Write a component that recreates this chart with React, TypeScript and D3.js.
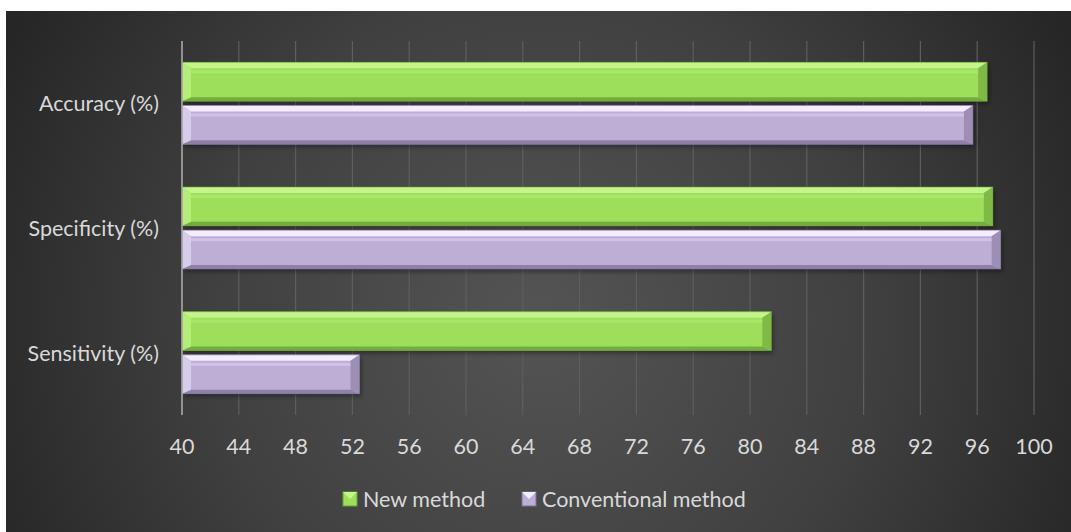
import React from "react";
import * as d3 from "d3";

const categories = ["Accuracy (%)", "Specificity (%)", "Sensitivity (%)"];
const seriesNames = ["New method", "Conventional method"];
const newMethod = [96.7, 97.1, 81.5];
const conventional = [95.7, 97.65, 52.5];
const xTicks = [40, 44, 48, 52, 56, 60, 64, 68, 72, 76, 80, 84, 88, 92, 96, 100];

const W = 1071;
const H = 532;
const FONT = "Lato, 'Open Sans', sans-serif";
const FS = 21.5;

const palettes = [
  { face: "#9ddf5b", top: "#c4f48c", topEdge: "#b0ec74", bottom: "#74ad3e", left: "#b2ee78", right: "#7fba47", edge: "#6aa036" },
  { face: "#bcaed4", top: "#f4ecff", topEdge: "#ddd0f0", bottom: "#8f80a8", left: "#d8cceb", right: "#9d8eb6", edge: "#7f7196" },
];

function Bar({ x0, x1, y0, y1, p }: { x0: number; x1: number; y0: number; y1: number; p: any }) {
  const b = 9;
  const bt = 6;
  const bb = 4;
  return (
    <g>
      <rect x={x0 + 2} y={y0 + 3} width={x1 - x0} height={y1 - y0} fill="#000" opacity={0.35} filter="url(#blur)" />
      <rect x={x0} y={y0} width={x1 - x0} height={y1 - y0} fill={p.face} />
      <polygon points={`${x0},${y0} ${x1},${y0} ${x1 - b},${y0 + bt} ${x0 + b},${y0 + bt}`} fill={p.top} />
      <polygon points={`${x0},${y1} ${x1},${y1} ${x1 - b},${y1 - bb} ${x0 + b},${y1 - bb}`} fill={p.bottom} />
      <polygon points={`${x0},${y0} ${x0 + b},${y0 + bt} ${x0 + b},${y1 - bb} ${x0},${y1}`} fill={p.left} />
      <polygon points={`${x1},${y0} ${x1 - b},${y0 + bt} ${x1 - b},${y1 - bb} ${x1},${y1}`} fill={p.right} />
      <rect x={x0 + b} y={y0 + bt + 2} width={Math.max(0, x1 - x0 - 2 * b)} height={3} fill={p.topEdge} opacity={0.6} />
      <rect x={x0} y={y0} width={x1 - x0} height={y1 - y0} fill="none" stroke={p.edge} strokeWidth={1} opacity={0.6} />
    </g>
  );
}

export default function App() {
  const x = d3.scaleLinear().domain([40, 100]).range([182, 1034]);
  const y = d3.scaleBand<string>().domain(categories).range([41, 415]);
  const inner = d3.scaleBand<string>().domain(seriesNames).range([0, 82]).paddingInner(0.1);
  const groupOffset = (y.bandwidth() - 82) / 2;
  const series = [newMethod, conventional];

  return (
    <svg width={W} height={H} style={{ position: "absolute", left: 0, top: 0 }}>
      <defs>
        <radialGradient id="bg" cx="540" cy="320" r="600" gradientUnits="userSpaceOnUse">
          <stop offset="0" stopColor="#545454" />
          <stop offset="0.55" stopColor="#404040" />
          <stop offset="1" stopColor="#262626" />
        </radialGradient>
        <filter id="blur" x="-5%" y="-30%" width="110%" height="160%">
          <feGaussianBlur stdDeviation="2" />
        </filter>
      </defs>
      <rect x={0} y={0} width={W} height={H} fill="#fff" />
      <rect x={6} y={11} width={W - 6} height={H - 11} fill="url(#bg)" />
      {xTicks.map((t) => (
        <line key={t} x1={x(t)} x2={x(t)} y1={41} y2={415} stroke="#5e5e5e" strokeWidth={1.2} />
      ))}
      {categories.map((c, ci) =>
        series.map((s, si) => {
          const yy = (y(c) as number) + groupOffset + (inner(seriesNames[si]) as number);
          return <Bar key={c + si} x0={x(40)} x1={x(s[ci])} y0={yy} y1={yy + inner.bandwidth()} p={palettes[si]} />;
        })
      )}
      <line x1={x(40)} x2={x(40)} y1={41} y2={415} stroke="#a8a8a8" strokeWidth={1.5} />
      {xTicks.map((t) => (
        <text key={t} x={x(t)} y={446} textAnchor="middle" dominantBaseline="central" fill="#d9d9d9" fontFamily={FONT} fontSize={FS}>
          {t}
        </text>
      ))}
      {categories.map((c) => (
        <text key={c} x={159} y={(y(c) as number) + y.bandwidth() / 2} textAnchor="end" dominantBaseline="central" fill="#d9d9d9" fontFamily={FONT} fontSize={FS}>
          {c}
        </text>
      ))}
      {seriesNames.map((n, i) => {
        const lx = [343, 522][i];
        const p = palettes[i];
        return (
          <g key={n}>
            <rect x={lx} y={492} width={14} height={14} fill={p.face} stroke={p.edge} />
            <polygon points={`${lx},492 ${lx + 14},492 ${lx + 7},499`} fill={p.top} />
            <text x={lx + 20} y={499} dominantBaseline="central" fill="#d9d9d9" fontFamily={FONT} fontSize={FS}>
              {n}
            </text>
          </g>
        );
      })}
    </svg>
  );
}
